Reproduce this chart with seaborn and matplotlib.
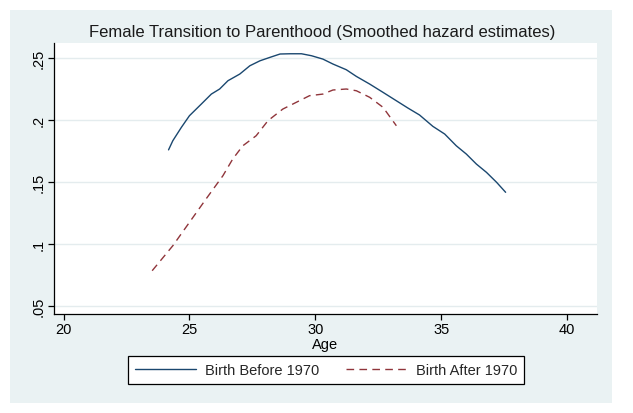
import matplotlib
matplotlib.use("Agg")
import matplotlib.pyplot as plt
from matplotlib.patches import Rectangle
import seaborn as sns
import pandas as pd

# Data
age_before = [24.17, 24.34, 24.68, 25.0, 25.47, 25.87, 26.2, 26.53, 27.0, 27.4, 27.8,
              28.2, 28.6, 29.0, 29.45, 29.85, 30.3, 30.7, 31.23, 31.63, 32.16, 32.69,
              33.22, 33.68, 34.14, 34.67, 35.14, 35.6, 36.0, 36.4, 36.8, 37.2, 37.56]
haz_before = [0.176, 0.1834, 0.1942, 0.2036, 0.213, 0.2211, 0.2252, 0.2319, 0.2373, 0.244,
              0.248, 0.2508, 0.2535, 0.2537, 0.2537, 0.2521, 0.2494, 0.2454, 0.2408, 0.2354,
              0.2292, 0.2225, 0.2157, 0.2098, 0.2042, 0.195, 0.1888, 0.1793, 0.1726, 0.1645,
              0.1578, 0.1498, 0.1417]
age_after = [23.52, 24.34, 25.0, 25.66, 26.33, 26.72, 27.12, 27.65, 28.12, 28.71, 29.24,
             29.77, 30.3, 30.7, 31.23, 31.63, 32.16, 32.69, 33.22]
haz_after = [0.0783, 0.0985, 0.1174, 0.1363, 0.1551, 0.1686, 0.1793, 0.1874, 0.1996, 0.209,
             0.2144, 0.2198, 0.2211, 0.2244, 0.2252, 0.2238, 0.2185, 0.2104, 0.1955]
x_ticks = [20, 25, 30, 35, 40]
y_ticks = [0.05, 0.10, 0.15, 0.20, 0.25]
y_tick_labels = [".05", ".1", ".15", ".2", ".25"]
series_names = ["Birth Before 1970", "Birth After 1970"]

sns.set_theme(style="white")
plt.rcParams["font.family"] = ["Liberation Sans", "DejaVu Sans"]

W, H = 633, 414
fig = plt.figure(figsize=(W / 100, H / 100), dpi=100, facecolor="white")
bg = "#eaf2f3"
fig.patches.append(Rectangle((10 / W, 1 - 404 / H), (612 - 10) / W, (404 - 11) / H,
                             transform=fig.transFigure, facecolor=bg, edgecolor="none", zorder=-10))

ax = fig.add_axes([54 / W, 1 - 315 / H, (597 - 54) / W, (315 - 44) / H])
ax.set_zorder(1)
ax.set_facecolor("white")

df_b = pd.DataFrame({"Age": age_before, "hazard": haz_before})
df_a = pd.DataFrame({"Age": age_after, "hazard": haz_after})
sns.lineplot(data=df_b, x="Age", y="hazard", ax=ax, color="#1a476f", lw=1.0,
             label=series_names[0], estimator=None, sort=False)
sns.lineplot(data=df_a, x="Age", y="hazard", ax=ax, color="#90353b", lw=1.0,
             label=series_names[1], estimator=None, sort=False)
ax.lines[1].set_dashes((5.5, 3.8))

ax.set_xlim(19.62, 41.19)
ax.set_ylim(0.0433, 0.2624)
ax.set_xticks(x_ticks)
ax.set_xticklabels([str(t) for t in x_ticks], fontsize=10.5)
ax.set_yticks(y_ticks)
ax.set_yticklabels(y_tick_labels, fontsize=10.5, rotation=90, va="center")
ax.grid(axis="y", color="#e4ecee", lw=1)
ax.grid(axis="x", visible=False)
for s in ["top", "right"]:
    ax.spines[s].set_visible(False)
for s in ["left", "bottom"]:
    ax.spines[s].set_color("black")
    ax.spines[s].set_linewidth(0.9)
ax.tick_params(axis="both", direction="out", length=4, width=0.9, color="black",
               left=True, bottom=True, pad=2, labelcolor="black")
ax.set_xlabel("Age", fontsize=10.5, labelpad=0.5, color="black")
ax.set_ylabel("")

fig.text((88 + 557) / 2 / W, 1 - 33 / H, "Female Transition to Parenthood (Smoothed hazard estimates)",
         ha="center", va="center", fontsize=12.0, color="#1a1a1a")

ax.get_legend().remove()
handles = ax.lines[:2]
leg = fig.legend(handles, series_names, loc="center", ncol=2,
                 bbox_to_anchor=((126 + 526) / 2 / W, 1 - 371 / H),
                 frameon=True, fancybox=False, fontsize=10.5, handlelength=4.2,
                 columnspacing=1.8, handletextpad=0.6, borderpad=0.45)
leg.get_frame().set_edgecolor("black")
leg.get_frame().set_linewidth(0.9)
leg.get_frame().set_facecolor("white")
leg.get_frame().set_alpha(1)

fig.savefig("out.png", dpi=100, facecolor="white")
